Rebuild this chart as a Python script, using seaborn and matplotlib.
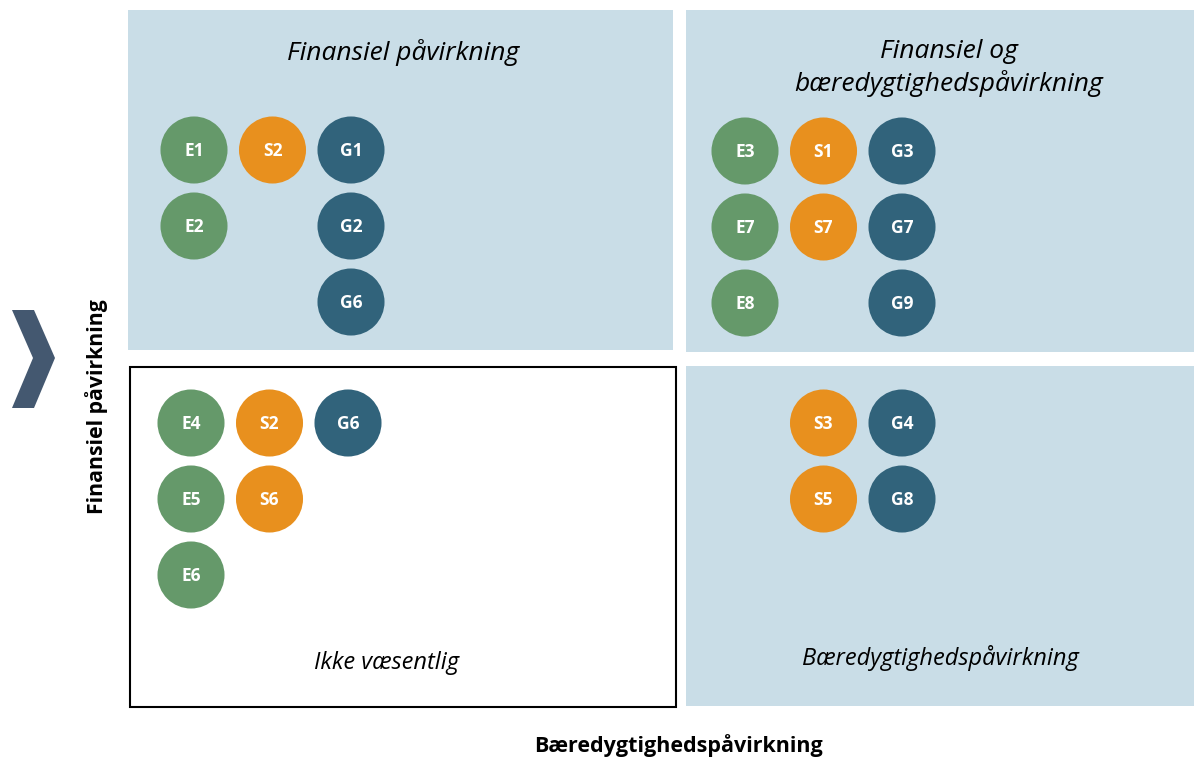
import matplotlib
matplotlib.use("Agg")
import matplotlib.pyplot as plt
from matplotlib.patches import Rectangle, Polygon
import seaborn as sns
import pandas as pd

# ---- data ----
labels     = ["E1", "S2", "G1", "E2", "G2", "G6",
              "E3", "S1", "G3", "E7", "S7", "G7", "E8", "G9",
              "E4", "S2", "G6", "E5", "S6", "E6",
              "S3", "G4", "S5", "G8"]
quadrants  = ["TL"] * 6 + ["TR"] * 8 + ["BL"] * 6 + ["BR"] * 4
rows       = [0, 0, 0, 1, 1, 2,
              0, 0, 0, 1, 1, 1, 2, 2,
              0, 0, 0, 1, 1, 2,
              0, 0, 1, 1]
categories = [l[0] for l in labels]

quad_titles = {
    "TL": "Finansiel påvirkning",
    "TR": "Finansiel og\nbæredygtighedspåvirkning",
    "BL": "Ikke væsentlig",
    "BR": "Bæredygtighedspåvirkning",
}
x_label = "Bæredygtighedspåvirkning"
y_label = "Finansiel påvirkning"

# ---- style ----
sns.set_theme(style="white")
plt.rcParams["font.family"] = ["Open Sans", "DejaVu Sans"]
plt.rcParams["text.color"] = "black"

W, H = 1194, 759
fig = plt.figure(figsize=(W / 100, H / 100), dpi=100)
ax = fig.add_axes([0, 0, 1, 1])
ax.set_xlim(0, W)
ax.set_ylim(H, 0)
ax.axis("off")

LIGHT = "#C9DDE7"
palette = {"E": "#65996A", "S": "#E8901E", "G": "#31637B"}

# quadrant panels
panels = {
    "TL": dict(xy=(128, 10), w=545, h=340, fc=LIGHT, ec="none"),
    "TR": dict(xy=(686, 10), w=508, h=342, fc=LIGHT, ec="none"),
    "BL": dict(xy=(130, 367), w=546, h=340, fc="white", ec="black"),
    "BR": dict(xy=(686, 366), w=508, h=340, fc=LIGHT, ec="none"),
}
for k, p in panels.items():
    ax.add_patch(Rectangle(p["xy"], p["w"], p["h"], facecolor=p["fc"],
                           edgecolor=p["ec"], linewidth=1.5, zorder=0))

origins = {"TL": (194, 150), "TR": (745, 151), "BL": (191, 423), "BR": (745, 423)}
col_of = {"E": 0, "S": 1, "G": 2}
COL_STEP, ROW_STEP = 78.5, 76

df = pd.DataFrame({"label": labels, "quad": quadrants, "row": rows, "cat": categories})
df["x"] = [origins[q][0] + col_of[c] * COL_STEP for q, c in zip(df["quad"], df["cat"])]
df["y"] = [origins[q][1] + r * ROW_STEP for q, r in zip(df["quad"], df["row"])]

sns.scatterplot(data=df, x="x", y="y", hue="cat", palette=palette, s=2330,
                linewidth=0, legend=False, ax=ax, zorder=3)
for _, r in df.iterrows():
    ax.text(r["x"], r["y"] + 1, r["label"], color="white", fontsize=12.5,
            fontweight="bold", ha="center", va="center", zorder=4)

# quadrant titles
ax.text(403, 53, quad_titles["TL"], fontsize=19, style="italic", ha="center", va="center")
ax.text(949, 68, quad_titles["TR"], fontsize=19, style="italic", ha="center", va="center",
        linespacing=1.3)
ax.text(386, 663, quad_titles["BL"], fontsize=17, style="italic", ha="center", va="center")
ax.text(940, 658, quad_titles["BR"], fontsize=17, style="italic", ha="center", va="center")

# axis labels
ax.text(678, 746, x_label, fontsize=15.5, fontweight="bold", ha="center", va="center")
ax.text(97, 407, y_label, fontsize=15.3, fontweight="bold", ha="center", va="center",
        rotation=90)

# chevron
ax.add_patch(Polygon([(12, 310), (34, 310), (55, 358), (34, 408), (12, 408), (33, 358)],
                     closed=True, facecolor="#445870", edgecolor="none"))

fig.savefig("out.png", dpi=100)
